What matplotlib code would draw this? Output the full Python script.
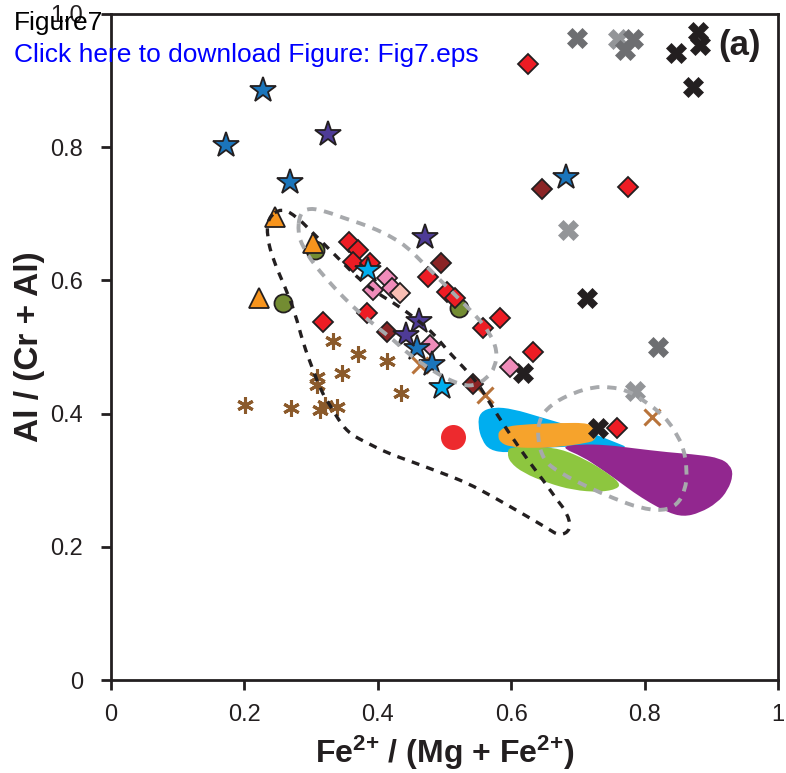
import matplotlib
matplotlib.use("Agg")
import matplotlib.pyplot as plt
import numpy as np
from matplotlib.path import Path
from matplotlib.patches import PathPatch

plt.rcParams['font.family'] = ['Liberation Sans', 'DejaVu Sans']
plt.rcParams['mathtext.fontset'] = 'custom'
plt.rcParams['mathtext.rm'] = 'Liberation Sans'
plt.rcParams['mathtext.bf'] = 'Liberation Sans:bold'
plt.rcParams['mathtext.default'] = 'bf'

# ---- point data: Fe2+/(Mg+Fe2+) vs Al/(Cr+Al) ----
blue_star_x = [0.172, 0.228, 0.268, 0.682, 0.459, 0.481]
blue_star_y = [0.803, 0.886, 0.748, 0.755, 0.498, 0.474]
cyan_star_x = [0.385, 0.496]
cyan_star_y = [0.616, 0.440]
purple_star_x = [0.325, 0.471, 0.462, 0.442]
purple_star_y = [0.820, 0.665, 0.539, 0.518]
triangle_x = [0.246, 0.303, 0.222]
triangle_y = [0.695, 0.656, 0.574]
olive_x = [0.306, 0.258, 0.522]
olive_y = [0.646, 0.566, 0.559]
red_dia_x = [0.625, 0.775, 0.357, 0.370, 0.363, 0.388, 0.318, 0.384, 0.475,
             0.504, 0.516, 0.583, 0.558, 0.633, 0.759]
red_dia_y = [0.925, 0.740, 0.658, 0.646, 0.628, 0.626, 0.538, 0.551, 0.605,
             0.583, 0.574, 0.544, 0.529, 0.492, 0.378]
dkred_dia_x = [0.646, 0.495, 0.414, 0.543]
dkred_dia_y = [0.737, 0.626, 0.523, 0.444]
pink_dia_x = [0.414, 0.393, 0.421, 0.478, 0.598]
pink_dia_y = [0.604, 0.586, 0.589, 0.503, 0.470]
ltpink_dia_x = [0.433]
ltpink_dia_y = [0.581]
black_x_x = [0.847, 0.880, 0.883, 0.873, 0.714, 0.618, 0.730]
black_x_y = [0.941, 0.973, 0.953, 0.890, 0.574, 0.461, 0.378]
dkgray_x_x = [0.699, 0.783, 0.771, 0.820]
dkgray_x_y = [0.964, 0.962, 0.946, 0.500]
ltgray_x_x = [0.760, 0.685, 0.786]
ltgray_x_y = [0.962, 0.676, 0.434]
aster_x = [0.333, 0.370, 0.414, 0.346, 0.309, 0.309, 0.435, 0.201, 0.270,
           0.313, 0.321, 0.339]
aster_y = [0.509, 0.489, 0.479, 0.461, 0.455, 0.443, 0.431, 0.413, 0.408,
           0.405, 0.413, 0.410]
brown_x_x = [0.463, 0.561, 0.811]
brown_x_y = [0.473, 0.428, 0.395]
red_dot_x = [0.513]
red_dot_y = [0.365]

# ---- field outlines ----
black_field_x = [0.256, 0.279, 0.298, 0.324, 0.348, 0.373, 0.399, 0.429, 0.459,
                 0.483, 0.504, 0.528, 0.549, 0.568, 0.594, 0.628, 0.648, 0.669,
                 0.684, 0.690, 0.673, 0.654, 0.613, 0.573, 0.534, 0.493, 0.453,
                 0.414, 0.384, 0.361, 0.346, 0.328, 0.316, 0.303, 0.288, 0.276,
                 0.261, 0.243, 0.234, 0.235]
black_field_y = [0.709, 0.695, 0.676, 0.650, 0.626, 0.601, 0.581, 0.563, 0.541,
                 0.521, 0.495, 0.470, 0.447, 0.416, 0.375, 0.326, 0.300, 0.270,
                 0.251, 0.226, 0.216, 0.228, 0.252, 0.275, 0.296, 0.312, 0.327,
                 0.341, 0.356, 0.368, 0.383, 0.413, 0.432, 0.465, 0.506, 0.551,
                 0.590, 0.631, 0.665, 0.694]
gray_field_x = [0.283, 0.298, 0.324, 0.348, 0.373, 0.399, 0.423, 0.444, 0.463,
                0.483, 0.504, 0.528, 0.549, 0.568, 0.579, 0.576, 0.564, 0.543,
                0.523, 0.498, 0.474, 0.448, 0.423, 0.399, 0.373, 0.348, 0.324,
                0.303, 0.288, 0.280]
gray_field_y = [0.701, 0.709, 0.703, 0.694, 0.686, 0.676, 0.664, 0.650, 0.631,
                0.611, 0.590, 0.566, 0.545, 0.521, 0.495, 0.470, 0.453, 0.441,
                0.444, 0.455, 0.470, 0.488, 0.511, 0.530, 0.551, 0.575, 0.601,
                0.626, 0.650, 0.671]
gray_ring_x = [0.643, 0.663, 0.693, 0.723, 0.748, 0.774, 0.798, 0.819, 0.838,
               0.850, 0.858, 0.864, 0.861, 0.849, 0.828, 0.793, 0.753, 0.714,
               0.673, 0.648, 0.639]
gray_ring_y = [0.395, 0.416, 0.431, 0.440, 0.440, 0.435, 0.420, 0.405, 0.386,
               0.365, 0.350, 0.315, 0.285, 0.263, 0.254, 0.258, 0.273, 0.290,
               0.311, 0.330, 0.365]
cyan_field_x = [0.553, 0.573, 0.603, 0.643, 0.684, 0.718, 0.756, 0.778, 0.733,
                0.673, 0.628, 0.594, 0.568, 0.556, 0.550]
cyan_field_y = [0.402, 0.410, 0.407, 0.395, 0.383, 0.372, 0.357, 0.348, 0.350,
                0.351, 0.345, 0.341, 0.345, 0.360, 0.383]
purple_field_x = [0.673, 0.703, 0.744, 0.783, 0.834, 0.883, 0.913, 0.928, 0.933,
                  0.925, 0.909, 0.883, 0.858, 0.834, 0.808, 0.783, 0.759, 0.733,
                  0.708]
purple_field_y = [0.350, 0.354, 0.353, 0.348, 0.342, 0.338, 0.333, 0.323, 0.308,
                  0.285, 0.266, 0.251, 0.245, 0.252, 0.266, 0.282, 0.300, 0.318,
                  0.335]
green_field_x = [0.598, 0.633, 0.673, 0.714, 0.744, 0.763, 0.760, 0.733, 0.693,
                 0.654, 0.618, 0.598, 0.594]
green_field_y = [0.350, 0.350, 0.348, 0.330, 0.311, 0.296, 0.287, 0.282, 0.285,
                 0.296, 0.311, 0.327, 0.341]
orange_field_x = [0.583, 0.594, 0.624, 0.673, 0.718, 0.729, 0.726, 0.714, 0.673,
                  0.633, 0.598, 0.583, 0.580]
orange_field_y = [0.375, 0.381, 0.384, 0.386, 0.386, 0.375, 0.360, 0.356, 0.350,
                  0.348, 0.350, 0.357, 0.368]


def smooth_path(xs, ys):
    # closed quadratic-bezier outline through the midpoints of the given vertices
    pts = np.column_stack([xs, ys])
    mids = (pts + np.roll(pts, -1, axis=0)) / 2
    verts = [mids[-1]]
    codes = [Path.MOVETO]
    for p, m in zip(pts, mids):
        verts += [p, m]
        codes += [Path.CURVE3, Path.CURVE3]
    return Path(verts, codes)


EDGE = '#231f20'

fig = plt.figure(figsize=(7.86, 7.73), dpi=100)
ax = fig.add_axes([0.1412, 0.1203, 0.8486, 0.8616])

# coloured fields
for fx, fy, col in [(cyan_field_x, cyan_field_y, '#00aeef'),
                    (purple_field_x, purple_field_y, '#92278f'),
                    (green_field_x, green_field_y, '#8dc63f'),
                    (orange_field_x, orange_field_y, '#f6a32c')]:
    ax.add_patch(PathPatch(smooth_path(fx, fy), facecolor=col,
                           edgecolor='none', zorder=1))

# dashed fields
ax.add_patch(PathPatch(smooth_path(black_field_x, black_field_y), fill=False,
                       edgecolor=EDGE, lw=2.4, ls=(0, (2.4, 2.2)), zorder=4))
ax.add_patch(PathPatch(smooth_path(gray_field_x, gray_field_y), fill=False,
                       edgecolor='#a7a9ac', lw=2.8, ls=(0, (2.4, 2.0)), zorder=4))
ax.add_patch(PathPatch(smooth_path(gray_ring_x, gray_ring_y), fill=False,
                       edgecolor='#a7a9ac', lw=2.8, ls=(0, (2.4, 2.0)), zorder=4))

kw = dict(linestyle='none', zorder=3)
ax.plot(red_dot_x, red_dot_y, 'o', ms=18, mfc='#ed2a2e', mec='none', **kw)
ax.plot(aster_x, aster_y, marker=(6, 2, 0), ms=12, mec='#8b5a2b', mew=2.2, **kw)
ax.plot(brown_x_x, brown_x_y, 'x', ms=11, mec='#b8733a', mew=2.2, **kw)
ax.plot(ltgray_x_x, ltgray_x_y, 'X', ms=14, mfc='#939598', mec='#939598', mew=0.5, **kw)
ax.plot(dkgray_x_x, dkgray_x_y, 'X', ms=14, mfc='#6d6e71', mec='#6d6e71', mew=0.5, **kw)
ax.plot(black_x_x, black_x_y, 'X', ms=14, mfc=EDGE, mec=EDGE, mew=0.5, **kw)
ax.plot(olive_x, olive_y, 'o', ms=13, mfc='#738c32', mec=EDGE, mew=1.3, **kw)
ax.plot(triangle_x, triangle_y, '^', ms=14, mfc='#f7941d', mec=EDGE, mew=1.3, **kw)
ax.plot(red_dia_x, red_dia_y, 'D', ms=10.5, mfc='#ed1c24', mec=EDGE, mew=1.3, **kw)
ax.plot(dkred_dia_x, dkred_dia_y, 'D', ms=10.5, mfc='#8b2425', mec=EDGE, mew=1.3, **kw)
ax.plot(pink_dia_x, pink_dia_y, 'D', ms=10.5, mfc='#f08cba', mec=EDGE, mew=1.3, **kw)
ax.plot(ltpink_dia_x, ltpink_dia_y, 'D', ms=10.5, mfc='#f9beb3', mec=EDGE, mew=1.3, **kw)
ax.plot(blue_star_x, blue_star_y, '*', ms=19, mfc='#1b75bb', mec=EDGE, mew=1.3, **kw)
ax.plot(cyan_star_x, cyan_star_y, '*', ms=19, mfc='#00aeef', mec=EDGE, mew=1.3, **kw)
ax.plot(purple_star_x, purple_star_y, '*', ms=19, mfc='#4e3b96', mec=EDGE, mew=1.3, **kw)

ax.set_xlim(0, 1)
ax.set_ylim(0, 1)
ax.set_xticks([0, 0.2, 0.4, 0.6, 0.8, 1])
ax.set_xticklabels(['0', '0.2', '0.4', '0.6', '0.8', '1'])
ax.set_yticks([0, 0.2, 0.4, 0.6, 0.8, 1.0])
ax.set_yticklabels(['0', '0.2', '0.4', '0.6', '0.8', '1.0'])
ax.tick_params(direction='out', length=7, width=2, colors=EDGE, labelsize=17,
               pad=10)
ax.tick_params(axis='y', pad=13)
for s in ax.spines.values():
    s.set_linewidth(2)
    s.set_color(EDGE)

ax.set_xlabel('Fe$^{2{+}}$ / (Mg + Fe$^{2{+}}$)', fontsize=23,
              fontweight='bold', labelpad=6, color=EDGE)
ax.set_ylabel('Al / (Cr + Al)', fontsize=24, fontweight='bold', labelpad=4,
              color=EDGE)
ax.text(0.943, 0.953, '(a)', fontsize=25, fontweight='bold', color=EDGE,
        ha='center', va='center', transform=ax.transAxes)

fig.text(14 / 786, 1 - 23 / 773, 'Figure7', fontsize=19, color='black',
         va='center', ha='left')
fig.text(14 / 786, 1 - 55 / 773, 'Click here to download Figure: Fig7.eps',
         fontsize=19, color='#0000ff', va='center', ha='left')

fig.savefig('out.png', dpi=100)
